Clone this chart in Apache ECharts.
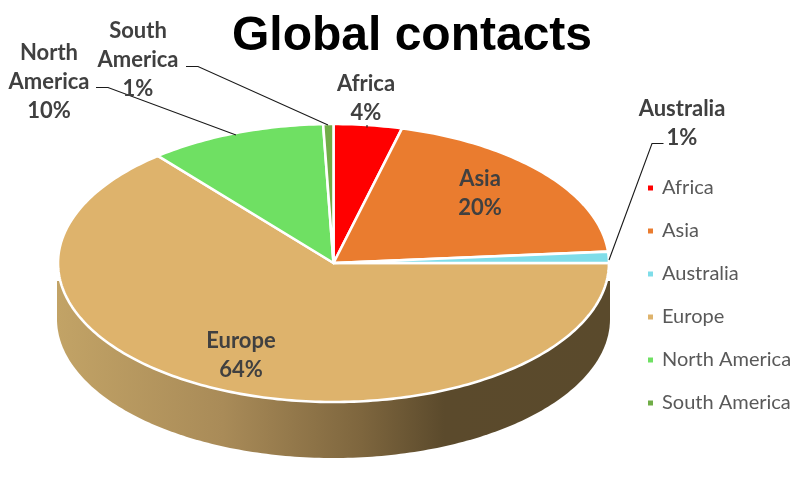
<!DOCTYPE html>
<html>
<head>
<meta charset="utf-8">
<style>html,body{margin:0;padding:0;background:#fff}#c{width:806px;height:480px}</style>
<script src="https://cdn.jsdelivr.net/npm/echarts@6/dist/echarts.min.js"></script>
</head>
<body>
<div id="c"></div>
<script>
const categories = ['Africa', 'Asia', 'Australia', 'Europe', 'North America', 'South America'];
const values = [4, 19.7, 1.3, 64, 10.4, 0.6];
const colors = ['#FF0000', '#EA7C2F', '#7FDDE9', '#DEB36C', '#6FE063', '#70AD47'];

// Layout of the tilted pie
const CX = 333.5, CY = 263, RX = 275.5, RY = 139, DEPTH = 56, WALL_RX = 276.5, WALL_TOP = 18;
// Label centres and leader lines
const labelPos = [[366, 98], [480, 193], [682, 123], [241, 355], [49, 81.5], [138, 59.5]];
const leaders = [
  [[367, 125], [367, 127.5]],
  null,
  [[663.5, 143.5], [652, 143.5], [609, 260]],
  null,
  [[96, 87.5], [108, 87.5], [236, 135]],
  [[186, 66.5], [198, 66.5], [328, 125]]
];

const total = values.reduce((a, b) => a + b, 0);
const starts = [];
values.reduce((acc, v, i) => { starts[i] = acc; return acc + v; }, 0);

function pt(deg, rx, ry, cy) {
  const a = deg * Math.PI / 180;
  return [CX + rx * Math.sin(a), cy - ry * Math.cos(a)];
}
function arc(from, to, rx, ry, cy) {
  const n = Math.max(2, Math.ceil(Math.abs(to - from)));
  const out = [];
  for (let i = 0; i <= n; i++) out.push(pt(from + (to - from) * i / n, rx, ry, cy));
  return out;
}

function renderSlice(i) {
  return function (params, api) {
    const from = api.value(0) / total * 360;
    const to = api.value(1) / total * 360;
    const children = [];
    const a = Math.max(from, 90), b = Math.min(to, 270);
    if (b > a) {
      const bottom = arc(a, b, WALL_RX, RY, CY + DEPTH);
      const pts = [[bottom[0][0], CY + WALL_TOP]].concat(bottom, [[bottom[bottom.length - 1][0], CY + WALL_TOP]]);
      children.push({
        type: 'polygon', z2: 1, shape: { points: pts },
        style: {
          fill: new echarts.graphic.LinearGradient(CX - WALL_RX, 0, CX + WALL_RX, 0, [
            { offset: 0, color: '#C2A366' },
            { offset: 0.3, color: '#A98B58' },
            { offset: 0.55, color: '#7E663E' },
            { offset: 0.7, color: '#5B4A2C' },
            { offset: 1, color: '#5A4A2C' }
          ], true)
        }
      });
    }
    children.push({
      type: 'polygon', z2: 2,
      shape: { points: [[CX, CY]].concat(arc(from, to, RX, RY, CY)) },
      style: { fill: colors[i], stroke: '#fff', lineWidth: 2.6, lineJoin: 'round' }
    });
    if (leaders[i]) {
      children.push({
        type: 'polyline', z2: 5, shape: { points: leaders[i] },
        style: { fill: null, stroke: '#1a1a1a', lineWidth: 1.1 }
      });
    }
    children.push({
      type: 'text', z2: 6,
      style: {
        text: categories[i].replace(' ', '\n') + '\n' + Math.round(values[i] / total * 100) + '%',
        x: labelPos[i][0], y: labelPos[i][1],
        align: 'center', verticalAlign: 'middle',
        fontFamily: 'Lato', fontWeight: 'bold', fontSize: 22, lineHeight: 29, fill: '#404040'
      }
    });
    return { type: 'group', children };
  };
}

const chart = echarts.init(document.getElementById('c'), null, { renderer: 'canvas' });
chart.setOption({
  animation: false,
  backgroundColor: '#fff',
  title: {
    text: 'Global contacts', left: 412, top: 13, textAlign: 'center', padding: 0,
    textStyle: { fontFamily: 'Liberation Sans', fontWeight: 'bold', fontSize: 48, color: '#000' }
  },
  legend: {
    orient: 'vertical', left: 648, top: 177, itemGap: 21, padding: 0,
    itemWidth: 5, itemHeight: 5, icon: 'rect',
    selectedMode: false,
    data: categories,
    textStyle: { fontFamily: 'Lato', fontSize: 20, color: '#595959', lineHeight: 22, padding: [0, 0, 0, 4] }
  },
  series: categories.map((name, i) => ({
    type: 'custom', name, coordinateSystem: 'none', silent: true,
    itemStyle: { color: colors[i] },
    data: [[starts[i], starts[i] + values[i]]],
    renderItem: renderSlice(i),
    z: i === 3 ? 1 : 2
  }))
});
</script>
</body>
</html>
